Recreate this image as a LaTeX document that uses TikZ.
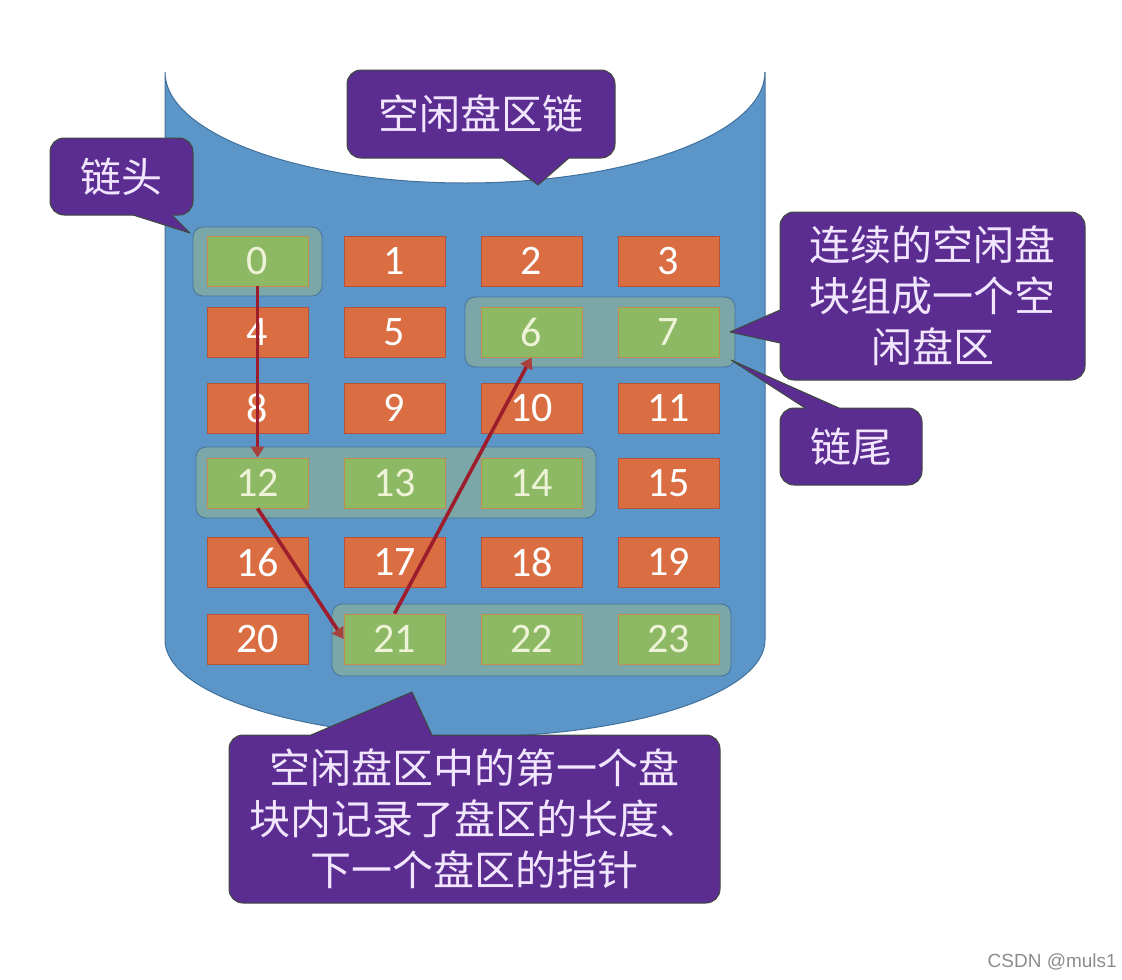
\documentclass[tikz,border=0pt]{standalone}
\usepackage{fontspec}
\newfontfamily\cjkfont{Noto Sans CJK SC}
\newfontfamily\numfont{Carlito}
\newfontfamily\wmfont{Liberation Sans}
\usetikzlibrary{arrows.meta}
\definecolor{cylblue}{HTML}{5C95C8}
\definecolor{cylborder}{HTML}{41719C}
\definecolor{orangefill}{HTML}{DA6D42}
\definecolor{orangeborder}{HTML}{B5533A}
\definecolor{greenfill}{HTML}{8DB964}
\definecolor{greenborder}{HTML}{C08E4A}
\definecolor{greentext}{HTML}{EEF3D8}
\definecolor{grpfill}{HTML}{7CA7A8}
\definecolor{grpborder}{HTML}{46749A}
\definecolor{callpurple}{HTML}{5C2D91}
\definecolor{callborder}{HTML}{3E4A3E}
\definecolor{calltext}{HTML}{F2E6FF}
\definecolor{arrowred}{HTML}{9E1D2D}
\definecolor{arrowtip}{HTML}{A8403C}
\begin{document}
\begin{tikzpicture}[x=1pt,y=-1pt,
  obox/.style={rectangle, fill=orangefill, draw=orangeborder, line width=0.8pt,
    minimum width=101pt, minimum height=50pt, inner sep=0pt, text=white,
    font=\numfont\fontsize{42}{48}\selectfont},
  gbox/.style={obox, fill=greenfill, draw=greenborder, text=greentext},
  grp/.style={rectangle, rounded corners=10pt, fill=grpfill, draw=grpborder,
    line width=0.8pt, inner sep=0pt},
  callout/.style={rectangle, rounded corners=14pt, fill=callpurple, draw=callborder,
    line width=1pt, inner sep=0pt, align=center, text=calltext,
    font=\cjkfont\fontsize{41}{51}\selectfont},
  ptrfill/.style={fill=callpurple},
  ptredge/.style={draw=callborder, line width=1pt, line join=round},
  link/.style={draw=arrowred, line width=3.6pt,
    -{Triangle[length=11pt,width=13pt,color=arrowtip]}}
]
\useasboundingbox (0,0) rectangle (1122,980);

% cylinder
\path[fill=cylblue, draw=cylborder, line width=1pt]
  (165,72) -- (165,640)
  .. controls (165,693.6) and (299.3,737) .. (465,737)
  .. controls (630.7,737) and (765,693.6) .. (765,640)
  -- (765,72)
  .. controls (765,133.3) and (630.7,183) .. (465,183)
  .. controls (299.3,183) and (165,133.3) .. (165,72) -- cycle;

% groups of free blocks
\node[grp, minimum width=129pt, minimum height=69pt] (g0) at (257.5,261.5) {};
\node[grp, minimum width=270pt, minimum height=70pt] (g1) at (600,332) {};
\node[grp, minimum width=400pt, minimum height=71pt] (g2) at (396,482.5) {};
\node[grp, minimum width=399pt, minimum height=72pt] (g3) at (531.5,640) {};

% blocks
\node[gbox] (b0) at (257.5,261) {0};
\node[obox] (b1) at (394.5,261) {1};
\node[obox] (b2) at (531.5,261) {2};
\node[obox] (b3) at (668.5,261) {3};
\node[obox] (b4) at (257.5,332) {4};
\node[obox] (b5) at (394.5,332) {5};
\node[gbox] (b6) at (531.5,332) {6};
\node[gbox] (b7) at (668.5,332) {7};
\node[obox] (b8) at (257.5,408) {8};
\node[obox] (b9) at (394.5,408) {9};
\node[obox] (b10) at (531.5,408) {10};
\node[obox] (b11) at (668.5,408) {11};
\node[gbox] (b12) at (257.5,483) {12};
\node[gbox] (b13) at (394.5,483) {13};
\node[gbox] (b14) at (531.5,483) {14};
\node[obox] (b15) at (668.5,483) {15};
\node[obox] (b16) at (257.5,562) {16};
\node[obox] (b17) at (394.5,562) {17};
\node[obox] (b18) at (531.5,562) {18};
\node[obox] (b19) at (668.5,562) {19};
\node[obox] (b20) at (257.5,639) {20};
\node[gbox] (b21) at (394.5,639) {21};
\node[gbox] (b22) at (531.5,639) {22};
\node[gbox] (b23) at (668.5,639) {23};

% links
\draw[link] (b0.south) -- (b12.north);
\draw[link] (b12.south) -- (b21.west);
\draw[link] (b21.north) -- (b6.south);

% callouts
\node[callout, minimum width=268pt, minimum height=88pt] (cA) at (481,114) {空闲盘区链};
\coordinate (tipA) at (538,185);
\fill[ptrfill] (502,150) -- (502,158) -- (tipA) -- (569,158) -- (569,150) -- cycle;
\draw[ptredge] (502,158) -- (tipA) -- (569,158);

\node[callout, minimum width=143pt, minimum height=77pt] (cB) at (121.5,176.5) {链头};
\coordinate (tipB) at (190,233);
\fill[ptrfill] (133,208) -- (133,215) -- (tipB) -- (172,215) -- (172,208) -- cycle;
\draw[ptredge] (133,215) -- (tipB) -- (172,215);

\node[callout, minimum width=305pt, minimum height=168pt] (cC) at (932.5,296) {连续的空闲盘\\块组成一个空\\闲盘区};
\coordinate (tipC) at (730,332);
\fill[ptrfill] (787,310) -- (780,310) -- (tipC) -- (780,343) -- (787,343) -- cycle;
\draw[ptredge] (780,310) -- (tipC) -- (780,343);

\node[callout, minimum width=142pt, minimum height=77pt] (cD) at (851,446.5) {链尾};
\coordinate (tipD) at (731,360);
\fill[ptrfill] (805,415) -- (805,408) -- (tipD) -- (839,408) -- (839,415) -- cycle;
\draw[ptredge] (805,408) -- (tipD) -- (839,408);

\node[callout, minimum width=491pt, minimum height=168pt] (cE) at (474.5,819) {空闲盘区中的第一个盘\\块内记录了盘区的长度、\\下一个盘区的指针};
\coordinate (tipE) at (412,692);
\fill[ptrfill] (311,742) -- (311,735) -- (tipE) -- (432,735) -- (432,742) -- cycle;
\draw[ptredge] (311,735) -- (tipE) -- (432,735);

% watermark
\node[anchor=south east, inner sep=0pt, text=black!45, font=\wmfont\fontsize{19}{22}\selectfont] (wm) at (1117,970) {CSDN @muls1};
\end{tikzpicture}
\end{document}
